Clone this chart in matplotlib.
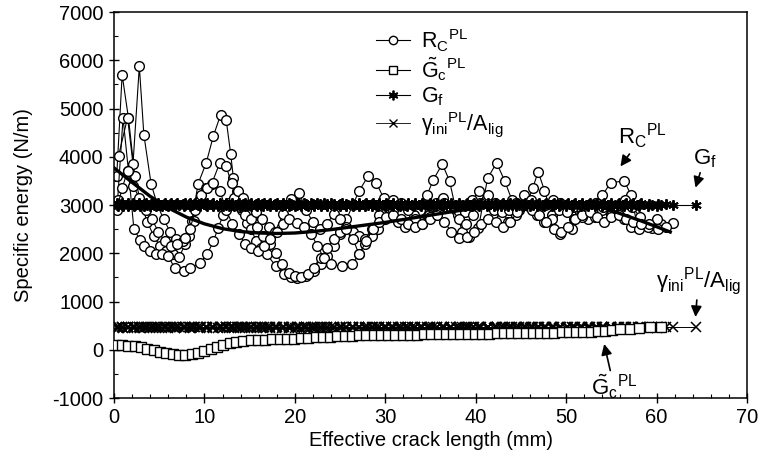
import numpy as np
import matplotlib
matplotlib.use('Agg')
import matplotlib.pyplot as plt
from matplotlib.lines import Line2D

plt.rcParams['font.family'] = ['Liberation Sans', 'DejaVu Sans']
plt.rcParams['mathtext.fontset'] = 'custom'
plt.rcParams['mathtext.rm'] = 'Liberation Sans'
plt.rcParams['mathtext.it'] = 'Liberation Sans:italic'
plt.rcParams['mathtext.bf'] = 'Liberation Sans:bold'
plt.rcParams['axes.unicode_minus'] = False

# ---------------- data ----------------
# R_C^PL, four specimens (crack length mm, N/m)
rc_x_a = [0.3,0.9,1.6,2.3,3.0,3.7,4.4,5.1,5.8,6.5,7.2,7.9,8.6,9.3,10.2,11.0,11.8,12.4,12.9,13.2,13.6,14.1,14.7,15.2,15.7,16.2,16.9,17.9,18.8,19.6,20.2,21.2,22.1,22.9,23.6,24.3,25.0,25.7,26.4,27.1,28.1,29.0,29.8,30.6,31.4,32.2,33.0,33.8,34.6,35.3,36.3,37.1,37.8,38.5,39.3,40.3,41.3,42.3,43.2,44.0,44.8,45.6,46.3,46.9,47.6,48.4,49.3,50.6,51.5,52.4,53.3,54.0,54.9,56.4,57.2,57.9,59.5,60.5,61.8]
rc_y_a = [3600,5700,4800,3600,3000,2650,2350,2150,2050,1980,1920,2200,2670,3440,3875,4440,4875,4770,4060,3560,3290,2900,2625,2500,2250,2100,1980,1730,1580,1500,1480,1520,1625,1770,1950,2150,2400,2700,3000,3290,3600,3460,3150,2850,2650,2550,2650,2900,3200,3520,3850,3500,2900,2450,2330,2520,3550,3875,3500,3100,2900,3000,3350,3690,3300,2800,2400,2500,2850,3000,3050,3200,3460,3500,3200,2520,2520,2600,2625]

rc_x_b = [0.4,1.0,1.6,2.2,2.9,3.3,4.0,4.6,5.3,6.0,6.7,7.7,8.4,9.5,10.3,11.0,11.5,12.1,12.7,13.3,13.9,14.5,15.1,15.8,16.5,17.2,17.9,18.6,19.3,20.0,20.7,21.4,22.1,22.9,23.6,24.3,25.0,25.7,26.4,27.1,27.8,28.5,29.2,30.0,30.8,31.6,32.4,33.2,34.0,34.8,35.6,36.4,37.2,38.0,38.8,39.6,40.4,41.2,42.0,42.8,43.6,44.4,45.2,46.0,46.8,47.6,48.4,49.2,50.0,50.8,51.6,52.4,53.2,54.0,54.8,55.6,56.4,57.2,58.0,59.0,60.0]
rc_y_b = [3100,4810,3700,2500,2270,2150,2050,1980,1980,1950,1690,1625,1690,1790,1980,2250,2520,2800,3050,3150,2950,2800,2700,2550,2350,2200,2000,1780,1600,1530,1500,1560,1700,1900,2100,2300,2450,2550,2450,2350,2300,2350,2500,2700,2900,3000,2950,2800,2650,2800,3050,3150,2950,2800,2850,3100,3300,3150,2900,2700,2650,2800,3000,2950,2800,2650,2700,2900,3000,2950,2800,2700,2750,2900,3000,2900,2700,2550,2500,2550,2700]

rc_x_c = [0.5,1.5,2.1,2.8,3.3,4.1,4.8,5.5,6.2,6.9,7.6,8.3,8.8,9.5,10.2,10.8,11.7,12.4,13.0,13.7,14.3,15.0,15.7,16.4,17.1,17.8,18.7,19.6,20.5,21.2,22.0,22.8,23.5,24.3,25.0,25.7,26.4,27.1,27.8,28.5,29.3,30.1,30.9,31.7,32.5,33.3,34.1,34.9,35.7,36.5,37.3,38.1,38.9,39.7,40.5,41.3,42.1,42.9,43.7,44.5,45.3,46.1,46.9,47.7,48.5,49.3,50.1,50.9,51.7,52.5,53.3,54.1,54.9,55.7,56.5,57.3,58.2,59.2,60.2,61.0]
rc_y_c = [4020,4810,3850,5875,4460,3440,3000,2700,2450,2300,2250,2350,2670,3100,3350,3440,3875,3800,3450,3300,3150,3000,2850,2700,2550,2450,2810,3120,3250,2900,2650,2500,2600,2810,2700,2500,2300,1980,2200,2500,2800,3000,3100,3050,2900,2700,2600,2750,2950,3050,2950,2700,2600,2800,3050,3200,3050,2850,2900,3050,3200,3100,2950,3000,3100,3050,2850,2700,2750,2900,3050,2950,2800,2950,3100,2950,2750,2600,2500,2550]

rc_x_d = [0.3,0.9,1.5,2.1,2.8,3.5,4.2,4.9,5.6,6.3,7.0,7.8,8.4,9.0,9.6,10.3,11.0,11.7,12.4,13.1,13.8,14.5,15.2,15.9,16.6,17.3,18.0,18.7,19.4,20.2,21.0,21.8,22.5,23.2,24.0,25.2,26.3,27.1,27.9,28.6,29.3,30.1,30.9,31.7,32.5,33.3,34.1,34.9,35.7,36.5,37.3,38.1,39.0,39.8,40.6,41.4,42.2,43.0,43.8,44.6,45.4,46.2,47.0,47.8,48.6,49.4,50.2,51.0,51.8,52.6,53.4,54.2,55.0,55.8,56.6,57.4,58.3]
rc_y_d = [2900,3350,3700,3400,3150,2900,2700,2450,2250,2150,2200,2310,2500,2900,3200,3350,3450,3300,2900,2600,2400,2200,2100,2050,2150,2300,2450,2600,2700,2625,2550,2400,2150,1900,1770,1730,1770,1980,2250,2500,2650,2750,2800,2700,2600,2550,2600,2700,2800,2650,2450,2310,2330,2450,2600,2700,2650,2550,2650,2850,3000,2900,2800,2650,2500,2450,2550,2700,2800,2850,2750,2650,2750,2800,2700,2650,2600]

# G_f and gamma_ini^PL/A_lig are constant per specimen
gf_values = [3000, 2980, 3020, 3040]
gamma_values = [470, 455, 480, 465]
tail_x = [64.3]   # last G_f / gamma point of specimen A

# G~c^PL
gc_x = [0.2,0.9,1.6,2.3,3.0,3.7,4.4,5.1,5.8,6.5,7.2,7.9,8.6,9.3,10.0,10.7,11.4,12.1,12.8,13.5,14.3,15.1,15.9,16.7,17.5,18.3,19.1,19.9,20.7,21.5,22.3,23.1,23.9,24.7,25.5,26.3,27.1,27.9,28.7,29.5,30.3,31.1,31.9,32.7,33.5,34.3,35.1,35.9,36.7,37.5,38.3,39.1,39.9,40.7,41.5,42.3,43.1,43.9,44.7,45.5,46.3,47.1,47.9,48.7,49.5,50.3,51.1,51.9,52.7,53.5,54.3,55.1,56.0,57.0,58.0,59.3,60.5]
gc_y = [100,95,85,70,50,25,-5,-40,-70,-95,-110,-105,-90,-60,-20,20,60,100,135,165,185,200,207,212,218,222,226,228,235,245,255,265,272,278,285,292,300,305,308,310,310,310,312,314,316,318,320,322,324,326,328,330,332,334,336,338,340,342,344,346,348,350,352,355,358,362,366,370,375,380,390,400,420,440,455,470,475]

# fitted R_C trend (thick line)
fit_x = [0,2,4,6,8,10,12,14,16,18,20,22,24,26,28,30,32,34,36,38,40,42,44,46,48,50,52,54,56,58,60,61.5]
fit_y = [3770,3470,3180,2940,2750,2610,2510,2450,2420,2410,2420,2450,2490,2540,2590,2640,2700,2760,2820,2880,2930,2980,3020,3050,3070,3060,3030,2950,2820,2690,2550,2440]

# ---------------- plot ----------------
fig = plt.figure(figsize=(7.6, 4.62), dpi=100)
ax = fig.add_axes([0.150, 0.1385, 0.833, 0.8355])

rc_sets = [(rc_x_a, rc_y_a), (rc_x_b, rc_y_b), (rc_x_c, rc_y_c), (rc_x_d, rc_y_d)]
ast = (6, 2, 0)

for i, (xs, ys) in enumerate(rc_sets):
    ax.plot(xs, ys, '-', color='k', lw=0.8, marker='o', ms=7, mfc='white',
            mec='k', mew=1.0, zorder=2)

for i, (xs, ys) in enumerate(rc_sets):
    gx = np.array(xs + (tail_x if i == 0 else []))
    ax.plot(gx, np.full(len(gx), gf_values[i]), '-', color='k', lw=0.8,
            marker=ast, ms=7.5, mew=1.4, zorder=3)
    ax.plot(gx, np.full(len(gx), gamma_values[i]), '-', color='k', lw=0.7,
            marker='x', ms=6.5, mew=1.1, zorder=3)

ax.plot(gc_x, gc_y, '-', color='k', lw=0.8, marker='s', ms=6.5, mfc='white',
        mec='k', mew=1.0, zorder=3)

ax.plot(fit_x, fit_y, '-', color='k', lw=2.4, zorder=4)

ax.set_xlim(0, 70)
ax.set_ylim(-1000, 7000)
ax.set_xticks(np.arange(0, 71, 10))
ax.set_xticks(np.arange(0, 71, 2), minor=True)
ax.set_yticks(np.arange(-1000, 7001, 1000))
ax.set_yticks(np.arange(-1000, 7001, 500), minor=True)
ax.tick_params(which='major', direction='inout', length=7, width=1, labelsize=14.5, pad=4)
ax.tick_params(which='minor', direction='in', length=3, width=0.8)
for s in ax.spines.values():
    s.set_linewidth(1.1)

ax.set_xlabel('Effective crack length (mm)', fontsize=14.5)
ax.set_ylabel('Specific energy (N/m)', fontsize=14.5)
ax.xaxis.set_label_coords(0.5, -0.085)
ax.yaxis.set_label_coords(-0.128, 0.5)

handles = [
    Line2D([], [], color='k', lw=0.8, marker='o', ms=6, mfc='white', mec='k', mew=1.0),
    Line2D([], [], color='k', lw=0.8, marker='s', ms=5.5, mfc='white', mec='k', mew=1.0),
    Line2D([], [], color='k', lw=0.8, marker=ast, ms=7, mew=1.3),
    Line2D([], [], color='k', lw=0.6, marker='x', ms=6, mew=1.0),
]
labels = [r'$\mathrm{R_C}^{\mathrm{PL}}$',
          r'$\mathrm{\tilde{G}_c}^{\mathrm{PL}}$',
          r'$\mathrm{G_f}$',
          r'$\mathrm{\gamma_{ini}}^{\mathrm{PL}}\mathrm{/A_{lig}}$']
ax.legend(handles, labels, loc='upper left', bbox_to_anchor=(0.39, 1.0),
          frameon=False, fontsize=15.5, handlelength=1.6, handletextpad=0.5,
          labelspacing=0.1, borderaxespad=0.3)

arrow = dict(arrowstyle='-|>', color='k', lw=1.2, mutation_scale=16, shrinkA=0, shrinkB=0)
ax.annotate(r'$\mathrm{R_C}^{\mathrm{PL}}$', xy=(56.0, 3800), xytext=(58.4, 4420),
            ha='center', va='center', fontsize=16, arrowprops=arrow)
ax.annotate(r'$\mathrm{G_f}$', xy=(64.3, 3360), xytext=(65.3, 3960),
            ha='center', va='center', fontsize=16, arrowprops=arrow)
ax.annotate(r'$\mathrm{\gamma_{ini}}^{\mathrm{PL}}\mathrm{/A_{lig}}$', xy=(64.3, 680),
            xytext=(64.6, 1420), ha='center', va='center', fontsize=16, arrowprops=arrow)
ax.annotate(r'$\mathrm{\tilde{G}_c}^{\mathrm{PL}}$', xy=(54.2, 120), xytext=(55.3, -780),
            ha='center', va='center', fontsize=16, arrowprops=arrow)

fig.savefig('out.png', dpi=100)
